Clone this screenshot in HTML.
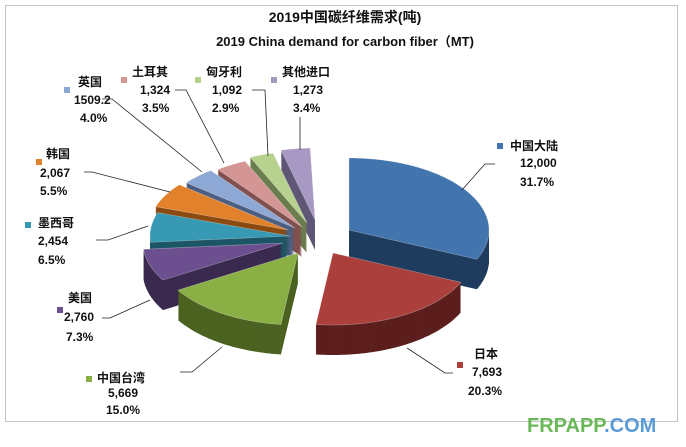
<!DOCTYPE html>
<html><head><meta charset="utf-8"><style>
html,body{margin:0;padding:0;background:#fff;}
svg{display:block;}
text{font-family:"Liberation Sans","Noto Sans CJK SC",sans-serif;font-weight:bold;fill:#111;}
</style></head><body>
<svg id="s" width="686" height="447" viewBox="0 0 686 447" xmlns="http://www.w3.org/2000/svg">
<rect x="5.5" y="5.5" width="672" height="416" fill="#fff" stroke="#c4c4c4"/>
<text x="345" y="22" font-size="14" text-anchor="middle">2019中国碳纤维需求(吨)</text>
<text x="345" y="46" font-size="13" text-anchor="middle">2019 China demand for carbon fiber（MT)</text>
<g id="pie"></g>
<g fill="none" stroke="#222" stroke-width="0.8">
<polyline points="462,190 485,164 495,164"/>
<polyline points="407,348 445,373 453,373"/>
<polyline points="222,347 192,372 180,372"/>
<polyline points="150,300 110,318 102,318"/>
<polyline points="148,226 108,240 96,240"/>
<polyline points="170,192 92,172 84,172"/>
<polyline points="102,99 112,99 202,172"/>
<polyline points="175,90 186,90 224,163"/>
<polyline points="252,90 265,90 268,156"/>
<polyline points="300,117 300,150"/>
</g>
<g font-size="12">
<rect x="497" y="143" width="6" height="6" fill="#4274ae"/>
<text x="510" y="150">中国大陆</text><text x="520" y="167">12,000</text><text x="520" y="186">31.7%</text>
<rect x="457" y="362" width="6" height="6" fill="#ab3f3c"/>
<text x="474" y="358">日本</text><text x="472" y="376">7,693</text><text x="468" y="395">20.3%</text>
<rect x="86" y="376" width="6" height="6" fill="#8aaf45"/>
<text x="97" y="382">中国台湾</text><text x="108" y="397">5,669</text><text x="106" y="414">15.0%</text>
<rect x="57" y="307" width="6" height="6" fill="#6c4f8f"/>
<text x="68" y="302">美国</text><text x="64" y="321">2,760</text><text x="66" y="341">7.3%</text>
<rect x="25" y="222" width="6" height="6" fill="#3799b3"/>
<text x="38" y="227">墨西哥</text><text x="38" y="245">2,454</text><text x="38" y="264">6.5%</text>
<rect x="36" y="159" width="6" height="6" fill="#e2812b"/>
<text x="46" y="158">韩国</text><text x="40" y="177">2,067</text><text x="40" y="195">5.5%</text>
<rect x="64" y="87" width="6" height="6" fill="#8ea8d6"/>
<text x="78" y="86">英国</text><text x="74" y="104">1509.2</text><text x="80" y="122">4.0%</text>
<rect x="121" y="77" width="6" height="6" fill="#d49694"/>
<text x="132" y="76">土耳其</text><text x="140" y="94">1,324</text><text x="142" y="112">3.5%</text>
<rect x="195" y="77" width="6" height="6" fill="#b7d18f"/>
<text x="206" y="76">匈牙利</text><text x="212" y="94">1,092</text><text x="212" y="112">2.9%</text>
<rect x="271" y="77" width="6" height="6" fill="#a899c4"/>
<text x="282" y="76">其他进口</text><text x="293" y="94">1,273</text><text x="293" y="112">3.4%</text>
</g>
<text x="527" y="432" font-size="20" style="font-weight:bold;fill:#6ab85a">FRPAPP<tspan style="fill:#5b9bd5">.COM</tspan></text>
</svg>
<script>
var rx=140,ry=72,D=30;
var S=[
[346,358,315,220,'#a899c4','#5f5775'],
[336,346,307,223,'#b7d18f','#6b7d4e'],
[323,336,302,227,'#d49694','#80504f'],
[309,323,295,228,'#8ea8d6','#4d5f80'],
[289,309,288,230,'#e2812b','#8b4a11'],
[265,289,290,236,'#3799b3','#1d5666'],
[0,114,349,230,'#4274ae','#1f3c5e'],
[239,265,283,243,'#6c4f8f','#3a2a4f'],
[114,187,333,253,'#ab3f3c','#5c1f1d'],
[187,239,298,253,'#8aaf45','#4b6221']
];
var g=document.getElementById('pie'),ns='http://www.w3.org/2000/svg';
function pts(s,dy){var p=[[s[2],s[3]+dy]];for(var a=s[0];a<=s[1]+0.001;a+=1){var r=a*Math.PI/180;p.push([s[2]+rx*Math.sin(r),s[3]-ry*Math.cos(r)+dy]);}return p.map(function(q){return q[0].toFixed(1)+','+q[1].toFixed(1)}).join(' ');}
S.forEach(function(s){
 for(var d=D;d>0;d-=1){var e=document.createElementNS(ns,'polygon');e.setAttribute('points',pts(s,d));e.setAttribute('fill',s[5]);g.appendChild(e);}
 var t=document.createElementNS(ns,'polygon');t.setAttribute('points',pts(s,0));t.setAttribute('fill',s[4]);t.setAttribute('stroke','#ffffff');t.setAttribute('stroke-opacity','0.4');t.setAttribute('stroke-width','0.6');g.appendChild(t);
});
</script>
</body></html>
